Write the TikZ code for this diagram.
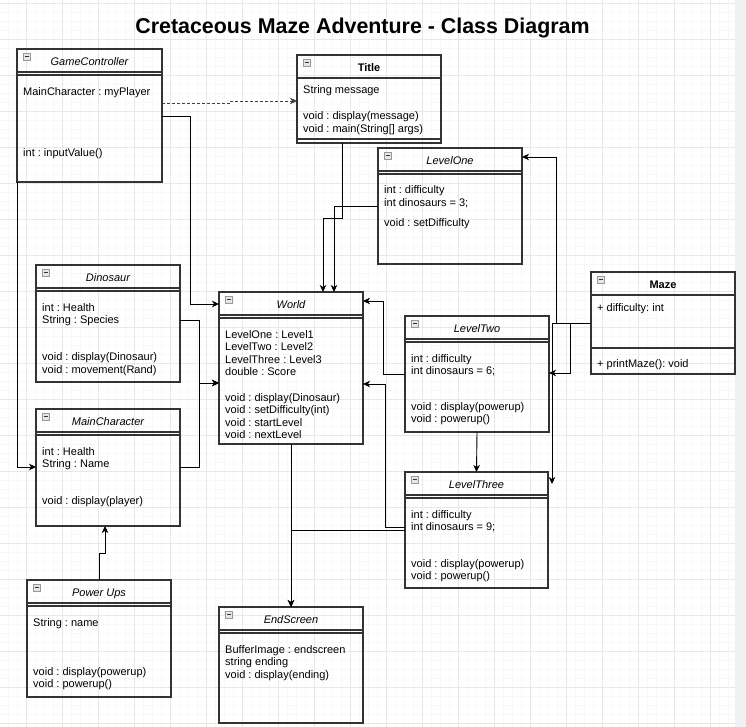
\documentclass[tikz,border=0pt]{standalone}
\usepackage{fontspec}
\setmainfont{Liberation Sans}
\usetikzlibrary{arrows.meta}
\frenchspacing

\definecolor{boxline}{HTML}{333333}
\definecolor{gridminor}{HTML}{F8F8F8}
\definecolor{gridmajor}{HTML}{E8E8E8}
\definecolor{pageband}{HTML}{F0F1F3}
\definecolor{iconfill}{HTML}{E6E6E6}

\newcommand\mlines[1]{\begin{tabular}[t]{@{}l@{}}#1\end{tabular}}

\tikzset{
  >={Stealth[length=7pt,width=6.5pt,inset=2pt]},
  cls/.style={draw=boxline, line width=1.1pt, anchor=north west, inner sep=0pt, outer sep=0pt, minimum width=144, minimum height=117},
  sep/.style={draw=boxline, line width=1.1pt},
  icon/.style={draw=gray!80, fill=iconfill, line width=0.6pt},
  clsname/.style={anchor=base, inner sep=0pt, font=\fontsize{11}{12.5}\selectfont\itshape},
  clsbold/.style={anchor=base, inner sep=0pt, font=\fontsize{11}{12.5}\selectfont\bfseries},
  memb/.style={anchor=base west, inner sep=0pt, font=\fontsize{11}{12.5}\selectfont},
  conn/.style={draw=black, line width=0.9pt, ->},
}

\begin{document}
\begin{tikzpicture}[x=1pt, y=-1pt]
  \useasboundingbox (0,0) rectangle (746,727);
  \fill[white] (0,0) rectangle (746,727);

  % background grid
  \foreach \gx in {-2,...,79} \draw[gridminor, line width=0.6pt] ({26+9*\gx},0) -- ({26+9*\gx},727);
  \foreach \gy in {0,...,80} \draw[gridminor, line width=0.6pt] (0,{3+9*\gy}) -- (735,{3+9*\gy});
  \foreach \gx in {0,...,19} \draw[gridmajor, line width=0.7pt] ({26+36*\gx},0) -- ({26+36*\gx},727);
  \foreach \gy in {0,...,20} \draw[gridmajor, line width=0.7pt] (0,{3+36*\gy}) -- (735,{3+36*\gy});
  \fill[pageband] (735,0) rectangle (746,727);

  \node[font=\fontsize{21.4}{24}\selectfont\bfseries, anchor=base, inner sep=0pt] (heading) at (362.5,34) {Cretaceous Maze Adventure - Class Diagram};

  % classes
  \node[cls, minimum width=145, minimum height=133] (gc) at (17,49) {};
  \node[cls, minimum height=88] (title) at (297,55) {};
  \node[cls, minimum height=116] (l1) at (378,148) {};
  \node[cls, minimum height=152] (world) at (219,292) {};
  \node[cls] (dino) at (36,265) {};
  \node[cls] (mc) at (36,409) {};
  \node[cls] (pu) at (27,580) {};
  \node[cls, minimum height=116] (es) at (219,607) {};
  \node[cls, minimum height=116] (l2) at (405,316) {};
  \node[cls, minimum width=143, minimum height=116] (l3) at (405,472) {};
  \node[cls, minimum height=102] (maze) at (591,272) {};

  \foreach \b in {gc,l1,world,dino,mc,pu,es,l2,l3} {
    \draw[sep] ([shift={(0,23)}]\b.north west) -- ([shift={(0,23)}]\b.north east);
    \draw[sep] ([shift={(0,26)}]\b.north west) -- ([shift={(0,26)}]\b.north east);
  }
  \draw[sep] ([shift={(0,23)}]title.north west) -- ([shift={(0,23)}]title.north east);
  \draw[sep] ([shift={(0,84)}]title.north west) -- ([shift={(0,84)}]title.north east);
  \draw[sep] ([shift={(0,23)}]maze.north west) -- ([shift={(0,23)}]maze.north east);
  \draw[sep] ([shift={(0,76)}]maze.north west) -- ([shift={(0,76)}]maze.north east);

  \foreach \b in {gc,title,l1,world,dino,mc,pu,es,l2,l3,maze} {
    \draw[icon] ([shift={(6,4)}]\b.north west) rectangle ++(7,7);
    \draw[gray!40!black, line width=0.8pt] ([shift={(7.5,7.5)}]\b.north west) -- ++(4,0);
  }

  % class names
  \node[clsname] (gc-n) at ([shift={(0,16.5)}]gc.north) {GameController};
  \node[clsbold] (title-n) at ([shift={(0,16.5)}]title.north) {Title};
  \node[clsname] (l1-n) at ([shift={(0,16.5)}]l1.north) {LevelOne};
  \node[clsname] (world-n) at ([shift={(0,16.5)}]world.north) {World};
  \node[clsname] (dino-n) at ([shift={(0,16.5)}]dino.north) {Dinosaur};
  \node[clsname] (mc-n) at ([shift={(0,16.5)}]mc.north) {MainCharacter};
  \node[clsname] (pu-n) at ([shift={(0,16.5)}]pu.north) {Power Ups};
  \node[clsname] (es-n) at ([shift={(0,16.5)}]es.north) {EndScreen};
  \node[clsname] (l2-n) at ([shift={(0,16.5)}]l2.north) {LevelTwo};
  \node[clsname] (l3-n) at ([shift={(0,16.5)}]l3.north) {LevelThree};
  \node[clsbold] (maze-n) at ([shift={(0,16.5)}]maze.north) {Maze};

  % members
  \node[memb] (gc-a) at (23,96) {MainCharacter : myPlayer};
  \node[memb] (gc-m) at (23,157) {int : inputValue()};
  \node[memb] (title-a) at (303,94) {String message};
  \node[memb] (title-m) at (303,120) {\mlines{void : display(message)\\void : main(String[] args)}};
  \node[memb] (l1-a) at (384,194) {\mlines{int : difficulty\\int dinosaurs = 3;}};
  \node[memb] (l1-m) at (384,227) {void : setDifficulty};
  \node[memb] (world-a) at (225,338) {\mlines{LevelOne : Level1\\LevelTwo : Level2\\LevelThree : Level3\\double : Score}};
  \node[memb] (world-m) at (225,401) {\mlines{void : display(Dinosaur)\\void : setDifficulty(int)\\void : startLevel\\void : nextLevel}};
  \node[memb] (dino-a) at (42,311) {\mlines{int : Health\\String : Species}};
  \node[memb] (dino-m) at (42,360.5) {\mlines{void : display(Dinosaur)\\void : movement(Rand)}};
  \node[memb] (mc-a) at (42,455) {\mlines{int : Health\\String : Name}};
  \node[memb] (mc-m) at (42,504) {void : display(player)};
  \node[memb] (pu-a) at (33,626) {String : name};
  \node[memb] (pu-m) at (33,675) {\mlines{void : display(powerup)\\void : powerup()}};
  \node[memb] (es-a) at (225,653) {\mlines{BufferImage : endscreen\\string ending\\void : display(ending)}};
  \node[memb] (l2-a) at (411,362) {\mlines{int : difficulty\\int dinosaurs = 6;}};
  \node[memb] (l2-m) at (411,410) {\mlines{void : display(powerup)\\void : powerup()}};
  \node[memb] (l3-a) at (411,518) {\mlines{int : difficulty\\int dinosaurs = 9;}};
  \node[memb] (l3-m) at (411,567) {\mlines{void : display(powerup)\\void : powerup()}};
  \node[memb] (maze-a) at (597,311) {+ difficulty: int};
  \node[memb] (maze-m) at (597,367) {+ printMaze(): void};

  % connectors
  \coordinate (l3hook) at ([shift={(4,12)}]l3.north east);
  \draw[conn, draw=black!75, dash pattern=on 3pt off 2pt] ([shift={(0,54)}]gc.north east) -- ++(68,0) -- ++(0,-2) -- ([shift={(0,46)}]title.north west);
  \draw[conn] ([shift={(0,67)}]gc.north east) -- ++(28,0) |- ([shift={(0,12)}]world.north west);
  \draw[conn] (gc.south west) |- ([shift={(0,58)}]mc.north west);
  \draw[conn] ([shift={(45,0)}]title.south west) -- ++(0,75) -| ([shift={(104,0)}]world.north west);
  \draw[conn] ([shift={(0,58)}]l1.north west) -| ([shift={(115,0)}]world.north west);
  \draw[conn] ([shift={(0,51)}]maze.north west) -- ++(-35,0) |- ([shift={(0,9)}]l1.north east);
  \draw[conn] ([shift={(0,51)}]maze.north west) -- ++(-21,0) |- ([shift={(0,57)}]l2.north east);
  \draw[conn] ([shift={(0,51)}]maze.north west) -| (l3hook);
  \draw[conn] ([shift={(0,58)}]l2.north west) -- ++(-22,0) |- ([shift={(0,9)}]world.north east);
  \draw[conn] ([shift={(0,55)}]l3.north west) -- ++(-20,0) |- ([shift={(0,92)}]world.north east);
  \draw[conn] ([shift={(0,58)}]l3.north west) -| (es.north);
  \draw[conn] (world.south) -- (es.north);
  \draw[conn] (l2.south) -- (l3.north);
  \draw[conn] ([shift={(0,55)}]dino.north east) -- ++(19,0) |- ([shift={(0,91)}]world.north west);
  \draw[conn] ([shift={(0,58)}]mc.north east) -- ++(19,0) |- ([shift={(0,91)}]world.north west);
  \draw[conn] (pu.north) -- ++(0,-27) -| ([shift={(69,0)}]mc.south west);
\end{tikzpicture}
\end{document}
